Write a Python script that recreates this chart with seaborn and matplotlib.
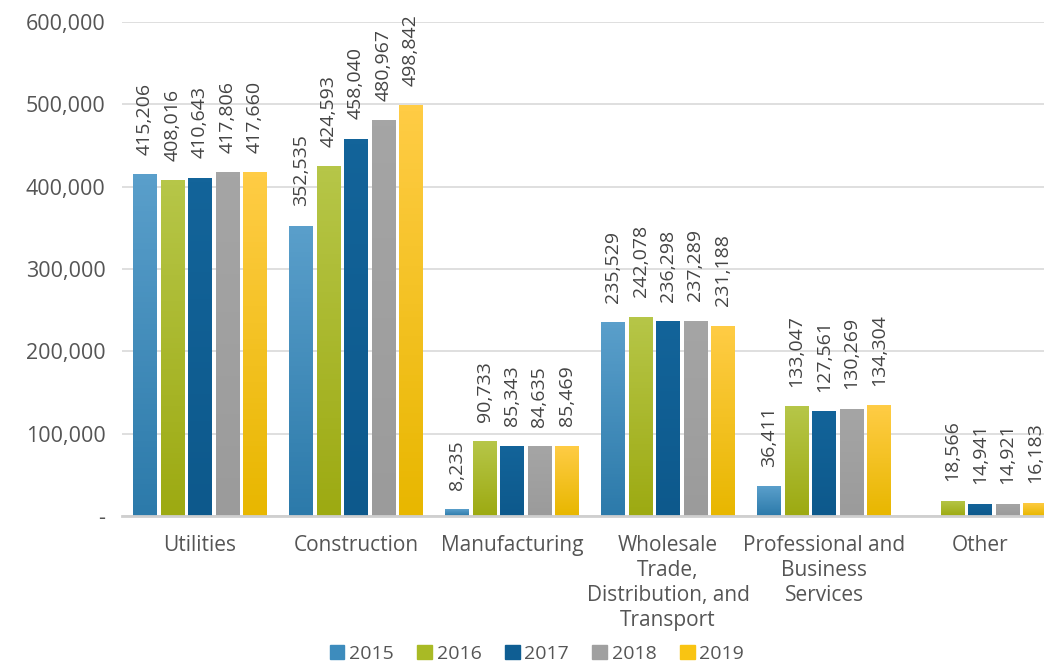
import numpy as np
import pandas as pd
import matplotlib
matplotlib.use("Agg")
import matplotlib.pyplot as plt
import matplotlib.colors as mcolors
import seaborn as sns

# data
sectors = ["Utilities", "Construction", "Manufacturing",
           "Wholesale\nTrade,\nDistribution, and\nTransport",
           "Professional and\nBusiness\nServices", "Other"]
years = ["2015", "2016", "2017", "2018", "2019"]
v2015 = [415206, 352535, 8235, 235529, 36411, np.nan]
v2016 = [408016, 424593, 90733, 242078, 133047, 18566]
v2017 = [410643, 458040, 85343, 236298, 127561, 14941]
v2018 = [417806, 480967, 84635, 237289, 130269, 14921]
v2019 = [417660, 498842, 85469, 231188, 134304, 16183]

colors = ["#3d8cbd", "#a9ba25", "#0f5e93", "#a0a0a0", "#f9c412"]
tops = ["#5a9fcb", "#b6c648", "#13649a", "#a5a5a5", "#ffcc45"]
bottoms = ["#2c7aaa", "#9daa12", "#0d598c", "#9b9b9b", "#e8b700"]

rows = []
for y, vals in zip(years, [v2015, v2016, v2017, v2018, v2019]):
    for s, v in zip(sectors, vals):
        rows.append({"Sector": s, "Year": y, "Value": v})
df = pd.DataFrame(rows)

sns.set_style("white")
plt.rcParams["font.family"] = ["Open Sans", "DejaVu Sans"]
text_color = "#555555"

fig = plt.figure(figsize=(10.44, 6.64), dpi=100)
ax = fig.add_axes([122 / 1044, 148 / 664, 1 - 122 / 1044, (516 - 22) / 664])

sns.barplot(data=df, x="Sector", y="Value", hue="Year", order=sectors, hue_order=years,
            palette=colors, width=0.88, gap=0.13, saturation=1, ax=ax, legend=False,
            errorbar=None)

# gradient fill and value labels
for i, cont in enumerate(ax.containers):
    cmap = mcolors.LinearSegmentedColormap.from_list("g", [bottoms[i], tops[i]])
    grad = np.linspace(0, 1, 64).reshape(-1, 1)
    for bar in cont:
        h = bar.get_height()
        if np.isnan(h) or h <= 0:
            continue
        x0 = bar.get_x()
        w = bar.get_width()
        bar.set_facecolor("none")
        bar.set_edgecolor("none")
        im = ax.imshow(grad, cmap=cmap, aspect="auto", origin="lower",
                       extent=[x0, x0 + w, 0, h], zorder=2)
        im.set_clip_path(bar)
        ax.annotate(f"{int(h):,}", (x0 + w / 2, h), xytext=(0, 14), textcoords="offset points",
                    rotation=90, ha="center", va="bottom", fontsize=14, color="#444444")

ax.set_xlim(-0.5, 5.41)
ax.set_ylim(0, 600000)

ax.set_yticks(np.arange(0, 600001, 100000))
ax.set_yticklabels(["-"] + [f"{v:,}" for v in range(100000, 600001, 100000)])
ax.yaxis.grid(True, color="#d9d9d9", linewidth=1.2)
ax.set_axisbelow(True)
ax.tick_params(axis="y", length=0, pad=12, labelsize=15.5, labelcolor=text_color)
ax.tick_params(axis="x", length=0, pad=14, labelsize=15, labelcolor=text_color)
for lbl in ax.get_xticklabels():
    lbl.set_linespacing(1.25)
ax.set_xlabel("")
ax.set_ylabel("")
for side in ["top", "right", "left"]:
    ax.spines[side].set_visible(False)
ax.spines["bottom"].set_color("#cfcfcf")
ax.spines["bottom"].set_linewidth(2)

handles = [plt.Rectangle((0, 0), 1, 1, color=c) for c in colors]
fig.legend(handles, years, loc="center", bbox_to_anchor=(537 / 1044, 10 / 664), ncol=5,
           frameon=False, fontsize=14, handlelength=0.75, handleheight=0.75,
           handletextpad=0.25, columnspacing=1.2, labelcolor=text_color)

fig.savefig("out.png", dpi=100)
